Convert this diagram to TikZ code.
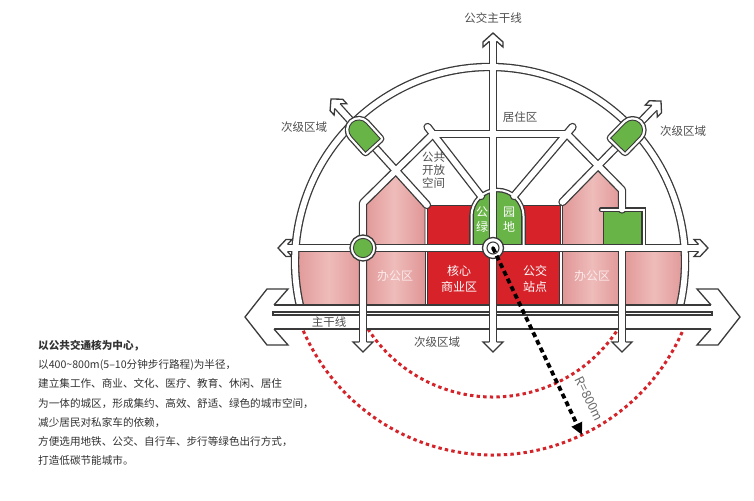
\documentclass[tikz,border=0pt]{standalone}
\usepackage{fontspec}
\setmainfont{Noto Sans CJK SC}
\usetikzlibrary{calc,arrows.meta}

% open road arrow head: tip, angle, outer, inner, half height, joint, half width
\newcommand{\roadtip}[7]{%
  \begin{scope}[shift={#1}, rotate=#2]
    \filldraw[tipline] (-#6,-#7) -- (-#4,-#5) -- (-#3,-#5) -- (0,0)
      -- (-#3,#5) -- (-#4,#5) -- (-#6,#7);
  \end{scope}}

% green stop on a secondary road
\newcommand{\capsulepath}{(-15.5,-10) -- (5.5,-10) arc[start angle=-90, end angle=90, radius=10] -- (-15.5,10) -- cycle}
\newcommand{\capsule}[2]{%
  \begin{scope}[shift={#1}, rotate=#2]
    \draw[line width=8.2pt, roadgray, line join=round] \capsulepath;
    \draw[line width=5.6pt, white, line join=round] \capsulepath;
    \filldraw[greenblock] \capsulepath;
  \end{scope}}

% street network, once for the edges and once for the white lane
\newcommand{\roadnet}[2]{%
  \draw[#1] (c_arc_r) arc[start angle=14.25, end angle=-194.25, radius=195];
  \draw[#1] (c_top_in) -- (c_main_x);
  \draw[#1] (c_h1_l) -- (c_b_knee) -- (c_lv_b);
  \draw[#1] (c_h1_r) -- (c_bb_knee) -- (c_bb_end);
  \draw[#1] (c_rv_top) -- (c_rv_b);
  \draw[#1] (c_h2_l) -- (c_h2_r);
  \draw[#1] (c_h1_l) -- (c_h1_r);
  \draw[#1] (c_d1_top) -- (c_d1_end);
  \draw[#1] (c_d2_top) -- (c_d2_end);
  \draw[#1] (c_a_in) -- (c_a_end);
  \draw[#1] (c_aa_in) -- (c_aa_end);
  \draw[#2] (c_dome_l) -- ++(0,-32) arc[start angle=180, end angle=360, radius=26] -- (c_dome_r);
  \draw[#2] (c_ring_l) -- (c_ring_k) -- (c_ring_b);
}

\begin{document}
\begin{tikzpicture}[x=1pt, y=-1pt]

  % Define Colors
  \definecolor{roadgray}{RGB}{58,58,58}
  \definecolor{labelgray}{RGB}{80,80,80}
  \definecolor{notegray}{RGB}{50,50,50}
  \definecolor{pinklight}{RGB}{238,188,186}
  \definecolor{pinkdeep}{RGB}{224,150,150}
  \definecolor{pinktext}{RGB}{252,234,234}
  \definecolor{corered}{RGB}{216,34,42}
  \definecolor{parkgreen}{RGB}{104,180,70}
  \definecolor{walkred}{RGB}{212,36,42}

  % Styles
  \tikzstyle{roadout}=[line width=8.4pt, draw=roadgray, line cap=round, line join=round]
  \tikzstyle{roadin}=[line width=5.8pt, draw=white, line cap=round, line join=round]
  \tikzstyle{ringout}=[line width=4.6pt, draw=roadgray, line cap=round, line join=miter]
  \tikzstyle{ringin}=[line width=2pt, draw=white, line cap=round, line join=miter]
  \tikzstyle{tipline}=[fill=white, draw=roadgray, line width=1.3pt, line join=miter]
  \tikzstyle{pinkblock}=[left color=pinkdeep, right color=pinkdeep, middle color=pinklight, draw=roadgray, line width=0.9pt]
  \tikzstyle{redblock}=[fill=corered, draw=roadgray, line width=0.9pt]
  \tikzstyle{greenblock}=[fill=parkgreen, draw=roadgray, line width=0.9pt]
  \tikzstyle{walkring}=[walkred, line width=3pt, dash pattern=on 3.4pt off 3.2pt]
  \tikzstyle{roadlabel}=[font=\fontsize{11.5}{13}\selectfont, text=labelgray, inner sep=0pt]
  \tikzstyle{blocklabel}=[font=\fontsize{12}{15.5}\selectfont, text=white, align=center, inner sep=0pt]
  \tikzstyle{notes}=[font=\fontsize{10.6}{19.2}\selectfont, text=notegray, align=left, inner sep=0pt]

  \useasboundingbox (0,0) rectangle (754,500);
  \fill[white] (0,0) rectangle (754,500);

  % Points of the street plan
  \coordinate (c_hub) at (493,248);
  \coordinate (c_park) at (363,248);
  \coordinate (c_reach) at (582,435);
  \coordinate (c_arc_r) at (679,310);
  \coordinate (c_top_tip) at (493,33);
  \coordinate (c_top_in) at (493,41.3);
  \coordinate (c_main_x) at (493,306);
  \coordinate (c_h1_l) at (433,134);
  \coordinate (c_h1_r) at (567,134);
  \coordinate (c_b_knee) at (363,203);
  \coordinate (c_lv_b) at (363,306);
  \coordinate (c_bb_knee) at (622,190);
  \coordinate (c_bb_end) at (622,209.5);
  \coordinate (c_rv_top) at (622,248);
  \coordinate (c_rv_b) at (622,306);
  \coordinate (c_h2_ltip) at (278,248);
  \coordinate (c_h2_l) at (287.5,248);
  \coordinate (c_h2_rtip) at (708,248);
  \coordinate (c_h2_r) at (698.5,248);
  \coordinate (c_d1_top) at (427.6,127);
  \coordinate (c_d1_end) at (481,196);
  \coordinate (c_d2_top) at (572.5,127);
  \coordinate (c_d2_end) at (514,196);
  \coordinate (c_a_tip) at (331,99);
  \coordinate (c_a_end) at (427,205);
  \coordinate (c_a_in) at ($(c_a_tip)!9.5pt!(c_a_end)$);
  \coordinate (c_aa_tip) at (661,101);
  \coordinate (c_aa_end) at (562.5,202);
  \coordinate (c_aa_in) at ($(c_aa_tip)!9.5pt!(c_aa_end)$);
  \coordinate (c_dome_l) at (471.5,248);
  \coordinate (c_dome_r) at (523.5,248);
  \coordinate (c_ring_l) at (601,209.5);
  \coordinate (c_ring_k) at (643.5,209.5);
  \coordinate (c_ring_b) at (643.5,248);
  \coordinate (c_main_l) at (274,317);
  \coordinate (c_main_r) at (711,317);
  \coordinate (c_big_l) at (245,317);
  \coordinate (c_big_r) at (740,317);
  \coordinate (c_cap_l) at (362.5,134);
  \coordinate (c_cap_r) at (628.7,134);

  % Walking rings (400m, 800m)
  \draw[walkring] ($(c_hub)+(31.57:149)$) arc[start angle=31.57, end angle=148.43, radius=149];
  \draw[walkring] ($(c_hub)+(22.14:207)$) arc[start angle=22.14, end angle=157.86, radius=207];

  % Blocks, lower row
  \path[pinkblock] (363,248) -- (363,305) -- (299.8,305) arc[start angle=167.26, end angle=184.12, radius=195] -- cycle;
  \path[pinkblock] (363,248) rectangle (425,305);
  \path[redblock] (427.5,248) rectangle (493,305);
  \path[redblock] (493,248) rectangle (559.5,305);
  \path[pinkblock] (562,248) rectangle (622,305);
  \path[pinkblock] (622,248) -- (622,305) -- (680.2,305) arc[start angle=12.74, end angle=-4.12, radius=195] -- cycle;

  % Blocks, upper row
  \path[pinkblock] (363,248) -- (363,203) -- (396,170.5) -- (425,202.5) -- (425,248) -- cycle;
  \path[redblock] (427.5,205) rectangle (471.5,248);
  \path[greenblock] (471.5,248) -- (471.5,216) arc[start angle=180, end angle=360, radius=26] -- (523.5,248) -- cycle;
  \path[redblock] (523.5,205) rectangle (560,248);
  \path[pinkblock] (562.5,248) -- (562.5,202) -- (598,166) -- (622,190) -- (622,248) -- cycle;
  \path[greenblock] (603,211.5) rectangle (641.5,247);

  % Streets
  \roadnet{roadout}{ringout}
  \roadtip{(c_top_tip)}{90}{9}{14}{10}{8.3}{3.55}
  \roadtip{(c_h2_ltip)}{180}{8}{14}{8.5}{9.5}{3.55}
  \roadtip{(c_h2_rtip)}{0}{8}{14}{8.5}{9.5}{3.55}
  \roadtip{(c_a_tip)}{132.2}{8}{14}{8.5}{9.5}{3.55}
  \roadtip{(c_aa_tip)}{45.7}{8}{14}{8.5}{9.5}{3.55}
  \roadnet{roadin}{ringin}

  % Main road
  \draw[roadgray, line width=25.3pt] (c_main_l) -- (c_main_r);
  \roadtip{(c_big_l)}{180}{22}{43}{28}{29}{12}
  \roadtip{(c_big_r)}{0}{22}{43}{28}{29}{12}
  \draw[white, line width=22.7pt] (c_main_l) -- (c_main_r);
  \filldraw[fill=white, draw=roadgray, line width=1.1pt] (273,312) rectangle (712,315);

  % Secondary roads across the main road
  \draw[roadout, line cap=butt] (363,300) -- (363,342);
  \draw[roadout, line cap=butt] (493,300) -- (493,342);
  \draw[roadout, line cap=butt] (622,300) -- (622,342);
  \roadtip{(363,352)}{-90}{10}{10}{10}{10}{3.55}
  \roadtip{(493,352)}{-90}{10}{10}{10}{10}{3.55}
  \roadtip{(622,352)}{-90}{10}{10}{10}{10}{3.55}
  \draw[roadin, line cap=butt] (363,300) -- (363,342);
  \draw[roadin, line cap=butt] (493,300) -- (493,342);
  \draw[roadin, line cap=butt] (622,300) -- (622,342);

  % Stops
  \capsule{(c_cap_l)}{132.2}
  \capsule{(c_cap_r)}{45.7}
  \filldraw[fill=white, draw=roadgray, line width=1.3pt] (c_park) circle[radius=13];
  \filldraw[greenblock] (c_park) circle[radius=9.6];
  \filldraw[fill=white, draw=roadgray, line width=1.3pt] (c_hub) circle[radius=10.5];
  \draw[roadgray, line width=1.1pt] (c_hub) circle[radius=6];
  \fill[black] (c_hub) circle[radius=1.8];

  % Radius
  \draw[black, line width=3.8pt, dash pattern=on 5pt off 3.5pt, -{Triangle[length=12pt, width=11pt]}] (c_hub) -- (c_reach);
  \node[roadlabel, text=labelgray!85, font=\fontsize{12.5}{13}\selectfont, rotate=-64] (n_radius) at (589,399) {R=800m};

  % Labels
  \node[roadlabel] (n_trunk) at (493,18) {公交主干线};
  \node[roadlabel] (n_home) at (520,117) {居住区};
  \node[roadlabel] (n_sub_l) at (304,127) {次级区域};
  \node[roadlabel] (n_sub_r) at (683,131) {次级区域};
  \node[roadlabel] (n_sub_b) at (437,342) {次级区域};
  \node[roadlabel] (n_main) at (329,322.5) {主干线};
  \node[roadlabel, align=center] (n_open) at (433.5,170) {公共\\开放\\空间};
  \node[blocklabel] (n_park_a) at (482,219.5) {公\\绿};
  \node[blocklabel] (n_park_b) at (509,219.5) {园\\地};
  \node[blocklabel] (n_core) at (459,279) {核心\\商业区};
  \node[blocklabel] (n_stop) at (535,279) {公交\\站点};
  \node[blocklabel, text=pinktext] (n_office_l) at (395,276) {办公区};
  \node[blocklabel, text=pinktext] (n_office_r) at (592,276) {办公区};

  % Notes
  \node[notes, anchor=north west] (n_notes) at (38,340) {\textbf{以公共交通核为中心，}\\
    以400\textasciitilde800m(5–10分钟步行路程)为半径，\\
    建立集工作、商业、文化、医疗、教育、休闲、居住\\
    为一体的城区，形成集约、高效、舒适、绿色的城市空间，\\
    减少居民对私家车的依赖，\\
    方便选用地铁、公交、自行车、步行等绿色出行方式，\\
    打造低碳节能城市。};

\end{tikzpicture}
\end{document}
